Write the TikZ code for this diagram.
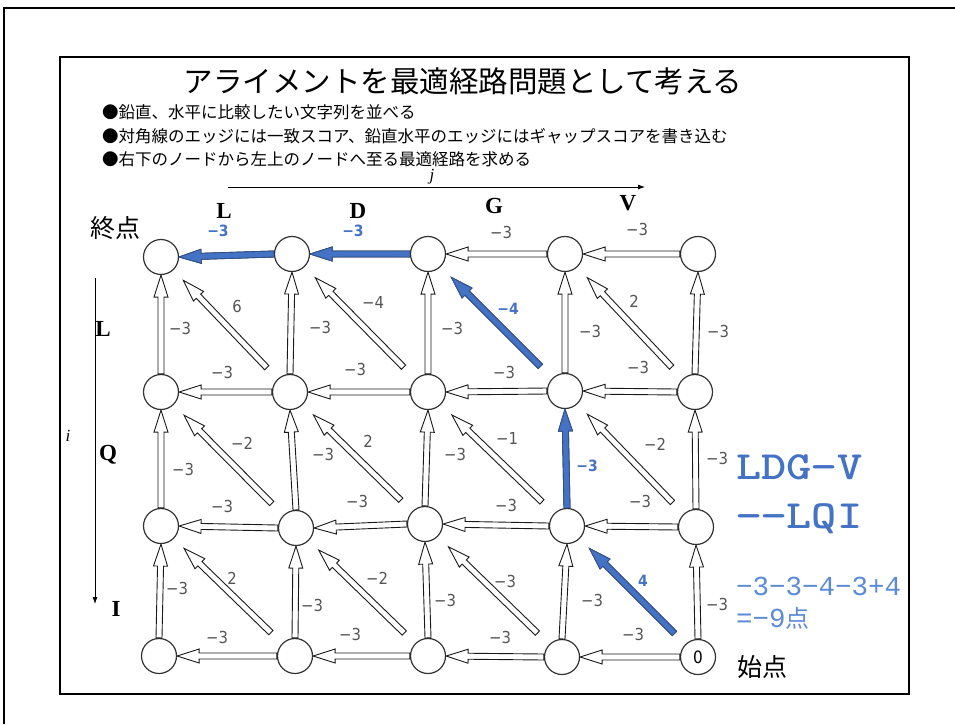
\documentclass[tikz,border=0pt]{standalone}
\usepackage{fontspec}
\newfontfamily\jp{Noto Sans CJK JP}
\newfontfamily\lbl[FakeStretch=0.9]{DejaVu Sans}
\newfontfamily\tms{Liberation Serif}
\newfontfamily\lmono{Liberation Mono}
\usetikzlibrary{calc,arrows.meta}
\definecolor{pathblue}{HTML}{4472C4}
\definecolor{pathedge}{HTML}{2F528F}
\definecolor{sumblue}{HTML}{5B8BD6}
\definecolor{lblgray}{HTML}{555555}
\definecolor{ringgray}{HTML}{333333}

\tikzset{
  harrow/.style={draw=black!90, line width=0.9pt, fill=white, line join=miter},
  barrow/.style={draw=pathedge, line width=0.8pt, fill=pathblue},
  gnode/.style={circle, draw=ringgray, line width=1.2pt, fill=white, minimum size=35pt, inner sep=0pt, font=\lbl\fontsize{17}{17}\selectfont},
  lab/.style={font=\lbl\fontsize{16.5}{16.5}\selectfont, text=lblgray, inner sep=0pt},
  blab/.style={font=\lbl\bfseries\fontsize{15.5}{15.5}\selectfont, text=pathblue, inner sep=0pt},
  hdr/.style={font=\tms\bfseries\fontsize{23}{23}\selectfont, inner sep=0pt},
  jtxt/.style={font=\jp\fontsize{#1}{#1}\selectfont, inner sep=0pt},
  axlab/.style={font=\tms\itshape\fontsize{17}{17}\selectfont, inner sep=0pt},
}

\newcommand\blockarr[3][harrow]{%
  \path (#2); \pgfgetlastxy{\baX}{\baY}%
  \path (#3); \pgfgetlastxy{\bbX}{\bbY}%
  \pgfmathsetmacro\baAng{atan2(\bbY-\baY,\bbX-\baX)}%
  \pgfmathsetmacro\baLen{veclen(\bbX-\baX,\bbY-\baY)}%
  \pgfmathsetmacro\baHB{\baLen-22}%
  \draw[#1,shift={(\baX,\baY)},rotate=\baAng]
    (0pt,-3pt) -- (\baHB pt,-3pt) -- (\baHB pt,-7pt) -- (\baLen pt,0pt)
    -- (\baHB pt,7pt) -- (\baHB pt,3pt) -- (0pt,3pt) -- cycle;}

\begin{document}
\begin{tikzpicture}[x=1pt,y=-1pt]
\useasboundingbox (0,0) rectangle (955,724);
% frames
\coordinate (ofA) at (4,724);
\coordinate (ofB) at (4,8);
\coordinate (ofC) at (955,8);
\draw[line width=2.5pt] (ofA) -- (ofB) -- (ofC);
\draw[line width=2pt] (60,57) rectangle (909,694);

% title and bullets
\node[jtxt=29.5] (title) at (463,81) {アライメントを最適経路問題として考える};
\node[jtxt=16.5, anchor=west] (b1) at (102,112) {●鉛直、水平に比較したい文字列を並べる};
\node[jtxt=16.5, anchor=west] (b2) at (102,136) {●対角線のエッジには一致スコア、鉛直水平のエッジにはギャップスコアを書き込む};
\node[jtxt=16.5, anchor=west] (b3) at (102,159) {●右下のノードから左上のノードへ至る最適経路を求める};

% axes
\coordinate (jS) at (228,187);
\coordinate (jE) at (645,187);
\draw[line width=0.8pt, -{Latex[length=7pt,width=5pt]}] (jS) -- (jE);
\node[axlab] (jl) at (432,177) {j};
\coordinate (iS) at (95,278);
\coordinate (iE) at (95,604);
\draw[line width=0.8pt, -{Latex[length=7pt,width=5pt]}] (iS) -- (iE);
\node[axlab] (il) at (68,436) {i};

% headers
\node[hdr] (cL) at (224,211) {L};
\node[hdr] (cD) at (358,211) {D};
\node[hdr] (cG) at (494,206) {G};
\node[hdr] (cV) at (628,203) {V};
\node[hdr] (rL) at (103,329) {L};
\node[hdr] (rQ) at (108,455) {Q};
\node[hdr] (rI) at (116,609) {I};
\node[jtxt=25] (endp) at (115,228) {終点};
\node[jtxt=25] (startp) at (762,667) {始点};

% grid nodes
\node[gnode] (n00) at (161,257) {};
\node[gnode] (n01) at (292,254) {};
\node[gnode] (n02) at (428,254) {};
\node[gnode] (n03) at (565,254) {};
\node[gnode] (n04) at (698,254) {};
\node[gnode] (n10) at (161,392) {};
\node[gnode] (n11) at (290,392) {};
\node[gnode] (n12) at (428,392) {};
\node[gnode] (n13) at (565,391) {};
\node[gnode] (n14) at (695,392) {};
\node[gnode] (n20) at (161,526) {};
\node[gnode] (n21) at (296,528) {};
\node[gnode] (n22) at (425,524) {};
\node[gnode] (n23) at (567,526) {};
\node[gnode] (n24) at (696,527) {};
\node[gnode] (n30) at (159,656) {};
\node[gnode] (n31) at (295,656) {};
\node[gnode] (n32) at (428,656) {};
\node[gnode] (n33) at (562,657) {};
\node[gnode] (n34) at (698,657) {0};

% horizontal arrows
\foreach \r in {0,1,2,3}{
  \foreach \c in {0,1,2,3}{
    \pgfmathtruncatemacro\cc{\c+1}
    \blockarr{n\r\cc.west}{n\r\c.east}
  }
}
% vertical arrows
\foreach \r in {0,1,2}{
  \foreach \c in {0,1,2,3,4}{
    \pgfmathtruncatemacro\rr{\r+1}
    \blockarr{n\rr\c.north}{n\r\c.south}
  }
}
% diagonal arrows
\foreach \r in {0,1,2}{
  \foreach \c in {0,1,2,3}{
    \pgfmathtruncatemacro\rr{\r+1}
    \pgfmathtruncatemacro\cc{\c+1}
    \blockarr{$(n\r\c)!0.82!(n\rr\cc)$}{$(n\r\c)!0.17!(n\rr\cc)$}
  }
}
% optimal path (blue)
\blockarr[barrow]{$(n23)!0.82!(n34)$}{$(n23)!0.17!(n34)$}
\blockarr[barrow]{n23.north}{n13.south}
\blockarr[barrow]{$(n02)!0.82!(n13)$}{$(n02)!0.17!(n13)$}
\blockarr[barrow]{n02.west}{n01.east}
\blockarr[barrow]{n01.west}{n00.east}

% horizontal labels
\node[blab] (h00) at (218,231) {−3};
\node[blab] (h01) at (353,231) {−3};
\node[lab] (h02) at (501,232) {−3};
\node[lab] (h03) at (637,229) {−3};
\node[lab] (h10) at (222,372) {−3};
\node[lab] (h11) at (355,369) {−3};
\node[lab] (h12) at (504,372) {−3};
\node[lab] (h13) at (638,367) {−3};
\node[lab] (h20) at (222,506) {−3};
\node[lab] (h21) at (357,501) {−3};
\node[lab] (h22) at (506,505) {−3};
\node[lab] (h23) at (640,501) {−3};
\node[lab] (h30) at (217,637) {−3};
\node[lab] (h31) at (350,634) {−3};
\node[lab] (h32) at (500,637) {−3};
\node[lab] (h33) at (633,634) {−3};
% vertical labels
\node[lab] (v00) at (180,328) {−3};
\node[lab] (v01) at (320,327) {−3};
\node[lab] (v02) at (452,328) {−3};
\node[lab] (v03) at (590,331) {−3};
\node[lab] (v04) at (718,331) {−3};
\node[lab] (v10) at (183,469) {−3};
\node[lab] (v11) at (323,454) {−3};
\node[lab] (v12) at (455,454) {−3};
\node[blab] (v13) at (587,466) {−3};
\node[lab] (v14) at (717,458) {−3};
\node[lab] (v20) at (177,588) {−3};
\node[lab] (v21) at (312,605) {−3};
\node[lab] (v22) at (445,600) {−3};
\node[lab] (v23) at (592,600) {−3};
\node[lab] (v24) at (717,604) {−3};
% diagonal labels
\node[lab] (d00) at (237,306) {6};
\node[lab] (d01) at (373,302) {−4};
\node[blab] (d02) at (508,309) {−4};
\node[lab] (d03) at (634,301) {2};
\node[lab] (d10) at (242,443) {−2};
\node[lab] (d11) at (368,441) {2};
\node[lab] (d12) at (507,438) {−1};
\node[lab] (d13) at (655,444) {−2};
\node[lab] (d20) at (232,578) {2};
\node[lab] (d21) at (377,578) {−2};
\node[lab] (d22) at (505,581) {−3};
\node[blab] (d23) at (643,581) {4};

% result text
\node[anchor=west, inner sep=0pt, text=pathblue] (al1) at (736,467)
  {\scalebox{1.2}[1]{\ttfamily\bfseries\fontsize{40}{40}\selectfont LDG−V}};
\node[anchor=west, inner sep=0pt, text=pathblue] (al2) at (736,519)
  {\scalebox{1.2}[1]{\ttfamily\bfseries\fontsize{40}{40}\selectfont −−LQI}};
\node[anchor=west, inner sep=0pt, text=sumblue, font=\lmono\fontsize{27.5}{27.5}\selectfont] (sum1) at (736,586) {−3−3−4−3+4};
\node[anchor=west, inner sep=0pt, text=sumblue] (sum2) at (736,618)
  {{\lmono\fontsize{27.5}{27.5}\selectfont =−9}{\jp\fontsize{24}{24}\selectfont 点}};
\end{tikzpicture}
\end{document}
